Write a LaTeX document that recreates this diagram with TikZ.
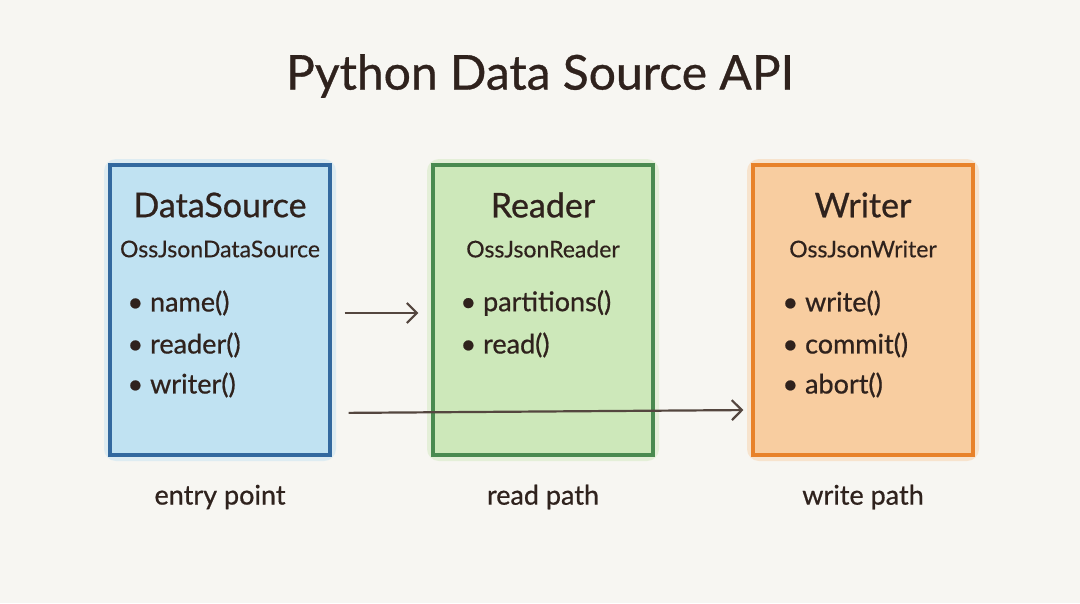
\documentclass[tikz,border=0pt]{standalone}
\usepackage{fontspec}
\setmainfont{Lato}
\newcommand{\medw}{\addfontfeature{FakeBold=0.7}}
\usetikzlibrary{arrows.meta}
\definecolor{bg}{HTML}{F7F6F2}
\definecolor{ink}{HTML}{2F221D}
\definecolor{arrowc}{HTML}{54463F}
\definecolor{bluel}{HTML}{33699F}
\definecolor{bluef}{HTML}{C0E2F2}
\definecolor{greenl}{HTML}{4A8A50}
\definecolor{greenf}{HTML}{CDE8BA}
\definecolor{orangel}{HTML}{E8822A}
\definecolor{orangef}{HTML}{F8CDA0}
\tikzset{
  card/.style={draw, line width=3.2pt, minimum width=220pt, minimum height=290pt, inner sep=0pt},
  halo/.style={minimum width=232pt, minimum height=302pt, inner sep=0pt, rounded corners=12pt, opacity=0.45},
  head/.style={text=ink, font=\fontsize{34}{40}\selectfont\medw, anchor=center},
  sub/.style={text=ink, font=\fontsize{23}{28}\selectfont\addfontfeature{FakeBold=0.4}, anchor=center},
  item/.style={text=ink, font=\fontsize{27}{32}\selectfont\medw, anchor=west},
  foot/.style={text=ink, font=\fontsize{27}{32}\selectfont\medw, anchor=center},
  arr/.style={draw=arrowc, line width=2.2pt, -{Straight Barb[length=10pt,width=20pt,line width=2.2pt]}}
}
\begin{document}
\begin{tikzpicture}[x=1pt,y=-1pt]
\fill[bg] (0,0) rectangle (1080,603);
\useasboundingbox (0,0) rectangle (1080,603);
% title
\node[text=ink, font=\fontsize{48}{56}\selectfont\medw] (title) at (540,76) {Python Data Source API};
% soft halos
\node[halo, fill=bluef] (dsh) at (220,310) {};
\node[halo, fill=greenf] (rdh) at (543,310) {};
\node[halo, fill=orangef] (wrh) at (863,310) {};
% cards
\node[card, draw=bluel, fill=bluef] (ds) at (220,310) {};
\node[card, draw=greenl, fill=greenf] (rd) at (543,310) {};
\node[card, draw=orangel, fill=orangef] (wr) at (863,310) {};
% DataSource
\node[head] (dst) at (220,205) {DataSource};
\node[sub] (dss) at (220,249) {OssJsonDataSource};
\node[item] (ds1) at (124,303) {• name()};
\node[item] (ds2) at (124,345) {• reader()};
\node[item] (ds3) at (124,385) {• writer()};
% Reader
\node[head] (rdt) at (543,205) {Reader};
\node[sub] (rds) at (543,249) {OssJsonReader};
\node[item] (rd1) at (457,303) {• partitions()};
\node[item] (rd2) at (457,345) {• read()};
% Writer
\node[head] (wrt) at (863,205) {Writer};
\node[sub] (wrs) at (863,249) {OssJsonWriter};
\node[item] (wr1) at (779,303) {• write()};
\node[item] (wr2) at (779,345) {• commit()};
\node[item] (wr3) at (779,385) {• abort()};
% footers
\node[foot] (f1) at (220,497) {entry point};
\node[foot] (f2) at (543,497) {read path};
\node[foot] (f3) at (863,497) {write path};
% arrows
\draw[arr, shorten <=13pt, shorten >=13pt] ([yshift=-3pt]ds.east) -- ([yshift=-3pt]rd.west);
\draw[arr, shorten <=17pt, shorten >=8pt] ([yshift=-103pt]ds.east) -- ([yshift=-100pt]wr.west);
\end{tikzpicture}
\end{document}
